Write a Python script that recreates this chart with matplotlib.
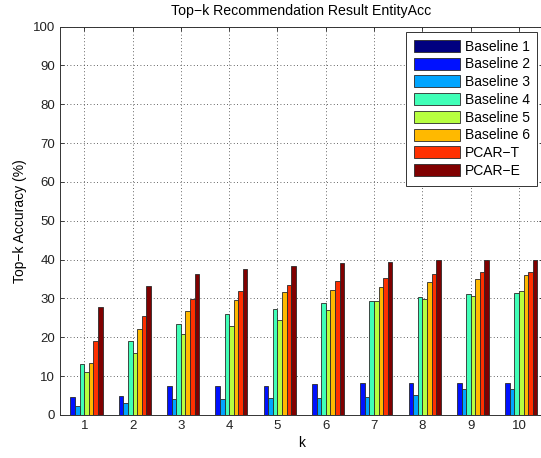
import numpy as np
import matplotlib
matplotlib.use("Agg")
import matplotlib.pyplot as plt

plt.rcParams['font.family'] = ['Liberation Sans', 'DejaVu Sans']

k_values = [1, 2, 3, 4, 5, 6, 7, 8, 9, 10]
series_names = ["Baseline 1", "Baseline 2", "Baseline 3", "Baseline 4",
                "Baseline 5", "Baseline 6", "PCAR\u2212T", "PCAR\u2212E"]

baseline1 = [0.1, 0.1, 0.1, 0.1, 0.1, 0.1, 0.1, 0.1, 0.1, 0.1]
baseline2 = [4.7, 5.0, 7.5, 7.5, 7.5, 8.0, 8.1, 8.1, 8.1, 8.1]
baseline3 = [2.3, 3.1, 4.0, 4.2, 4.4, 4.4, 4.6, 5.1, 6.6, 6.6]
baseline4 = [13.1, 19.1, 23.5, 25.9, 27.3, 28.8, 29.4, 30.3, 31.2, 31.4]
baseline5 = [11.0, 15.9, 20.8, 22.9, 24.5, 26.9, 29.4, 29.9, 30.7, 31.9]
baseline6 = [13.3, 22.2, 26.8, 29.6, 31.7, 32.2, 33.0, 34.3, 35.0, 36.0]
pcar_t = [19.1, 25.6, 29.8, 32.0, 33.5, 34.5, 35.2, 36.3, 36.7, 36.9]
pcar_e = [27.8, 33.2, 36.2, 37.7, 38.3, 39.1, 39.3, 39.8, 40.0, 40.0]

all_series = [baseline1, baseline2, baseline3, baseline4,
              baseline5, baseline6, pcar_t, pcar_e]
colors = plt.cm.jet(np.linspace(0, 1, len(all_series)))

fig = plt.figure(figsize=(5.41, 4.58), dpi=100)
ax = fig.add_axes([0.111, 0.094, 0.893, 0.848])

x = np.array(k_values, dtype=float)
width = 0.095
n = len(all_series)
for i, (vals, name, c) in enumerate(zip(all_series, series_names, colors)):
    offset = (i - (n - 1) / 2) * width
    ax.bar(x + offset, vals, width=width, color=c, edgecolor='#2a2a2a',
           linewidth=0.6, label=name, zorder=3)

ax.set_xlim(0.5, 10.5)
ax.set_ylim(0, 100)
ax.set_xticks(k_values)
ax.set_yticks(np.arange(0, 101, 10))
ax.tick_params(direction='in', top=True, right=True, labelsize=9.5,
               length=3, width=0.6, colors='#222222')
ax.grid(True, linestyle=(0, (1, 3)), color='#333333', linewidth=0.6, zorder=0)
ax.set_axisbelow(True)
for s in ax.spines.values():
    s.set_linewidth(0.7)
    s.set_color('#333333')

ax.set_title("Top\u2212k Recommendation Result EntityAcc", fontsize=10.2, pad=8)
ax.set_xlabel("k", fontsize=10, labelpad=3)
ax.set_ylabel("Top\u2212k Accuracy (%)", fontsize=10)

leg = ax.legend(loc='upper right', bbox_to_anchor=(0.994, 0.993), fontsize=10,
                handlelength=3.3, handleheight=0.95, handletextpad=0.35,
                labelspacing=0.27, borderpad=0.55, fancybox=False,
                framealpha=1, edgecolor='#333333', borderaxespad=0.2)
leg.get_frame().set_linewidth(0.7)

fig.savefig("out.png", dpi=100)
